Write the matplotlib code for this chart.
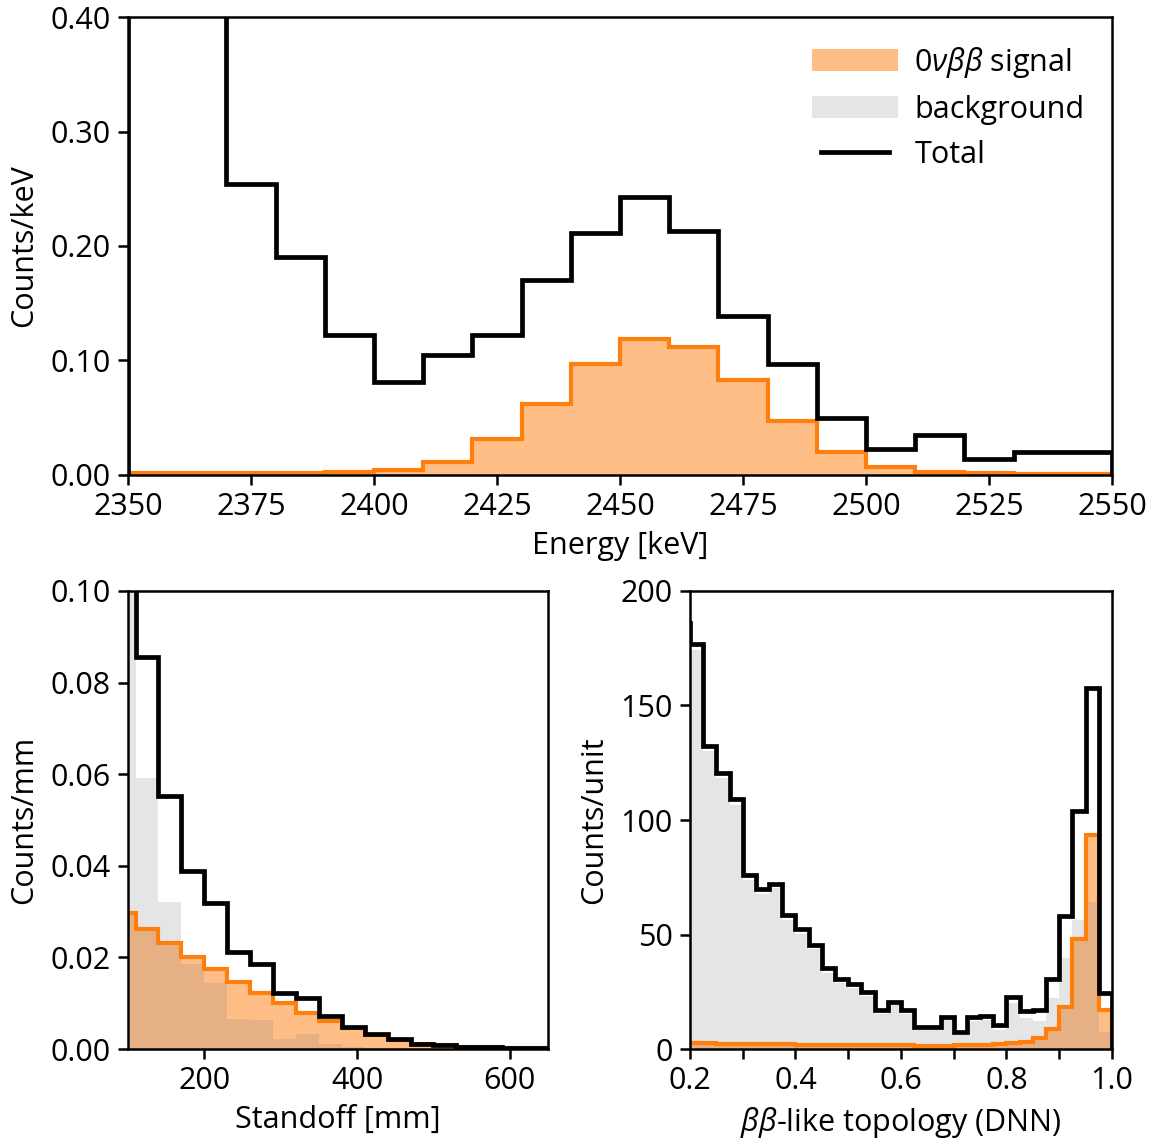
import numpy as np
import matplotlib
matplotlib.use("Agg")
import matplotlib.pyplot as plt
from matplotlib.patches import Patch
from matplotlib.lines import Line2D
from matplotlib.legend_handler import HandlerLine2D

plt.rcParams['font.family'] = ['Open Sans', 'DejaVu Sans']
plt.rcParams['mathtext.fontset'] = 'custom'
plt.rcParams['mathtext.rm'] = 'Open Sans'
plt.rcParams['mathtext.it'] = 'Open Sans:italic'
plt.rcParams['mathtext.bf'] = 'Open Sans:bold'
plt.rcParams['font.size'] = 22
plt.rcParams['axes.linewidth'] = 1.8

# ---------------- data ----------------
# Energy panel (bins of 10 keV)
energy_edges = np.arange(2350, 2551, 10)
energy_signal = [0.002, 0.002, 0.002, 0.002, 0.003, 0.0044, 0.0116, 0.031, 0.062, 0.097,
                 0.1185, 0.112, 0.083, 0.0474, 0.0204, 0.0073, 0.003, 0.0015, 0.0008, 0.0005]
energy_total = [0.60, 0.50, 0.254, 0.190, 0.122, 0.081, 0.105, 0.122, 0.170, 0.211,
                0.243, 0.213, 0.139, 0.097, 0.050, 0.023, 0.035, 0.014, 0.020, 0.020]

# Standoff panel (bins of 30 mm)
standoff_edges = np.arange(80, 651, 30)
standoff_signal = [0.0296, 0.0263, 0.0232, 0.0202, 0.0174, 0.0147, 0.0122, 0.0100, 0.0079,
                   0.0062, 0.0045, 0.0031, 0.0020, 0.0012, 0.0008, 0.0005, 0.0004, 0.0003, 0.0002]
standoff_background = [0.120, 0.0592, 0.0320, 0.0186, 0.0144, 0.0065, 0.0063, 0.0023, 0.0033,
                       0.0010, 0.0004, 0.0002, 0.0001, 0.0, 0.0, 0.0, 0.0, 0.0, 0.0]

# DNN topology panel (bins of 0.025)
dnn_edges = np.round(np.arange(0.175, 1.0001, 0.025), 3)
dnn_signal = [2.7, 2.6, 2.5, 2.4, 2.3, 2.2, 2.1, 2.0, 2.0, 1.9, 1.9, 1.8, 1.8, 1.7, 1.7, 1.6,
              1.6, 1.6, 1.5, 1.5, 1.5, 1.6, 1.7, 1.9, 2.2, 2.6, 3.2, 4.7, 8.6, 18.5, 47.9, 93.4, 17.0]
dnn_background = [183.3, 174.3, 130.0, 118.3, 106.7, 73.8, 67.6, 70.1, 56.5, 50.4, 43.5, 33.4,
                  29.0, 26.7, 23.3, 15.4, 19.1, 15.4, 8.2, 8.2, 12.6, 6.0, 12.1, 12.5, 8.3, 20.0,
                  13.5, 12.3, 22.2, 39.6, 56.2, 64.1, 7.3]

energy_ticks = [2350, 2375, 2400, 2425, 2450, 2475, 2500, 2525, 2550]
standoff_ticks = [200, 400, 600]
dnn_ticks = [0.2, 0.3, 0.4, 0.5, 0.6, 0.7, 0.8, 0.9, 1.0]
dnn_ticklabels = ['0.2', '', '0.4', '', '0.6', '', '0.8', '', '1.0']

SIG = 'tab:orange'
LW_TOT = 3.4
LW_SIG = 3.0


class ShortLineHandler(HandlerLine2D):
    def create_artists(self, legend, orig_handle, xdescent, ydescent, width, height,
                       fontsize, trans):
        shrink = 0.1 * width
        artists = super().create_artists(legend, orig_handle, xdescent - shrink, ydescent,
                                         width - 2 * shrink, height, fontsize, trans)
        return artists


fig = plt.figure(figsize=(11.61, 11.42), dpi=100)
ax_top = fig.add_axes([0.1102, 0.5841, 0.8476, 0.4010])
ax_bl = fig.add_axes([0.1102, 0.0814, 0.3618, 0.4011])
ax_br = fig.add_axes([0.5943, 0.0814, 0.3635, 0.4011])

for ax in (ax_top, ax_bl, ax_br):
    ax.tick_params(direction='out', length=7.5, width=1.8, pad=5, labelsize=22)

# top panel
ax_top.stairs(energy_signal, energy_edges, fill=True, color=SIG, alpha=0.5, lw=0)
ax_top.stairs(energy_signal, energy_edges, color=SIG, lw=LW_SIG)
ax_top.stairs(energy_total, energy_edges, color='black', lw=LW_TOT)
ax_top.set_xlim(2350, 2550)
ax_top.set_ylim(0, 0.40)
ax_top.set_xticks(energy_ticks)
ax_top.set_yticks([0, 0.1, 0.2, 0.3, 0.4])
ax_top.set_yticklabels(['0.00', '0.10', '0.20', '0.30', '0.40'])
ax_top.set_xlabel('Energy [keV]', labelpad=6)
ax_top.set_ylabel('Counts/keV', labelpad=8)

line_handle = Line2D([], [], color='black', lw=LW_TOT)
handles = [Patch(facecolor=SIG, alpha=0.5, edgecolor='none'),
           Patch(facecolor='gray', alpha=0.2, edgecolor='none'),
           line_handle]
labels = [r'$0\nu\beta\beta$ signal', 'background', 'Total']
ax_top.legend(handles, labels, loc='upper right', frameon=False, fontsize=22,
              handlelength=2.8, handleheight=0.7, handletextpad=0.55, labelspacing=0.5,
              borderaxespad=0.5, handler_map={line_handle: ShortLineHandler()})

# bottom-left panel
s_tot = np.array(standoff_signal) + np.array(standoff_background)
ax_bl.stairs(standoff_signal, standoff_edges, fill=True, color=SIG, alpha=0.5, lw=0)
ax_bl.stairs(standoff_background, standoff_edges, fill=True, color='gray', alpha=0.2, lw=0)
ax_bl.stairs(standoff_signal, standoff_edges, color=SIG, lw=LW_SIG)
ax_bl.stairs(s_tot, standoff_edges, color='black', lw=LW_TOT)
ax_bl.set_xlim(100, 650)
ax_bl.set_ylim(0, 0.10)
ax_bl.set_xticks(standoff_ticks)
ax_bl.set_yticks([0, 0.02, 0.04, 0.06, 0.08, 0.10])
ax_bl.set_yticklabels(['0.00', '0.02', '0.04', '0.06', '0.08', '0.10'])
ax_bl.set_xlabel('Standoff [mm]', labelpad=6)
ax_bl.set_ylabel('Counts/mm', labelpad=8)

# bottom-right panel
d_tot = np.array(dnn_signal) + np.array(dnn_background)
ax_br.stairs(dnn_signal, dnn_edges, fill=True, color=SIG, alpha=0.5, lw=0)
ax_br.stairs(dnn_background, dnn_edges, fill=True, color='gray', alpha=0.2, lw=0)
ax_br.stairs(dnn_signal, dnn_edges, color=SIG, lw=LW_SIG)
ax_br.stairs(d_tot, dnn_edges, color='black', lw=LW_TOT)
ax_br.set_xlim(0.2, 1.0)
ax_br.set_ylim(0, 200)
ax_br.set_xticks(dnn_ticks)
ax_br.set_xticklabels(dnn_ticklabels)
ax_br.set_yticks([0, 50, 100, 150, 200])
ax_br.set_xlabel(r'$\beta\beta$-like topology (DNN)', labelpad=6)
ax_br.set_ylabel('Counts/unit', labelpad=8)

fig.savefig('out.png', dpi=100)
